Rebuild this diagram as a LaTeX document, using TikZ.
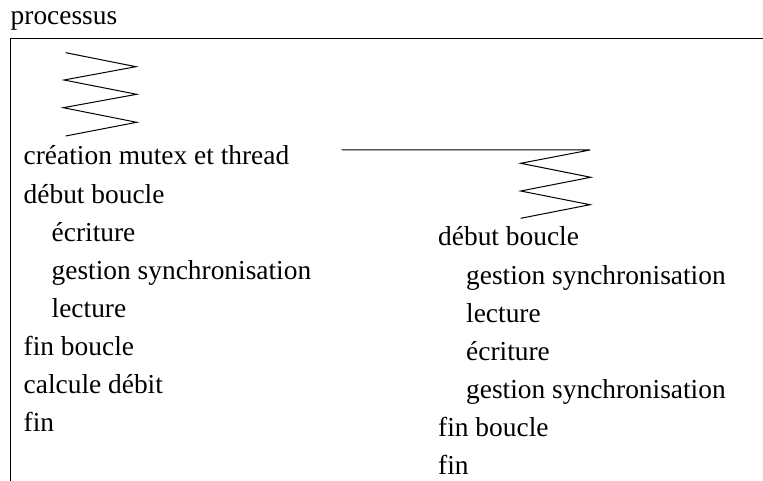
\documentclass[tikz,border=0pt]{standalone}
\usepackage{fontspec}
\setmainfont{Liberation Serif}
\begin{document}
\begin{tikzpicture}[x=1pt,y=-1pt,
  txt/.style={anchor=base west,inner sep=0pt,font=\fontsize{27.4}{33}\selectfont},
  ln/.style={line width=1pt,line join=miter}]
\useasboundingbox (0,0) rectangle (763,481);
% title and frame
\node[txt] (title) at (10.5,25) {processus};
\draw[ln] (10.5,481) -- (10.5,38.5) -- (763,38.5);
% left zigzag
\draw[ln] (65.7,52.7) -- (136,66.7) -- (64,80) -- (136.7,94.3) -- (63.3,107.7) -- (136.7,122.3) -- (65.7,136);
% thread line and zigzag
\draw[ln] (341.7,150) -- (590,150) -- (520.7,163.3) -- (590.7,177.3) -- (520.7,191) -- (590,204.7) -- (520.7,218.3);
% left column
\node[txt] (l1) at (23.5,165) {création mutex et thread};
\node[txt] (l2) at (23.5,203.1) {début boucle};
\node[txt] (l3) at (51.5,241.2) {écriture};
\node[txt] (l4) at (51.5,279.3) {gestion synchronisation};
\node[txt] (l5) at (51.5,317.4) {lecture};
\node[txt] (l6) at (23.5,355.5) {fin boucle};
\node[txt] (l7) at (23.5,393.6) {calcule débit};
\node[txt] (l8) at (23.5,431.7) {fin};
% right column
\node[txt] (r1) at (438,246) {début boucle};
\node[txt] (r2) at (466,284.1) {gestion synchronisation};
\node[txt] (r3) at (466,322.2) {lecture};
\node[txt] (r4) at (466,360.3) {écriture};
\node[txt] (r5) at (466,398.4) {gestion synchronisation};
\node[txt] (r6) at (438,436.5) {fin boucle};
\node[txt] (r7) at (438,474.6) {fin};
\end{tikzpicture}
\end{document}
